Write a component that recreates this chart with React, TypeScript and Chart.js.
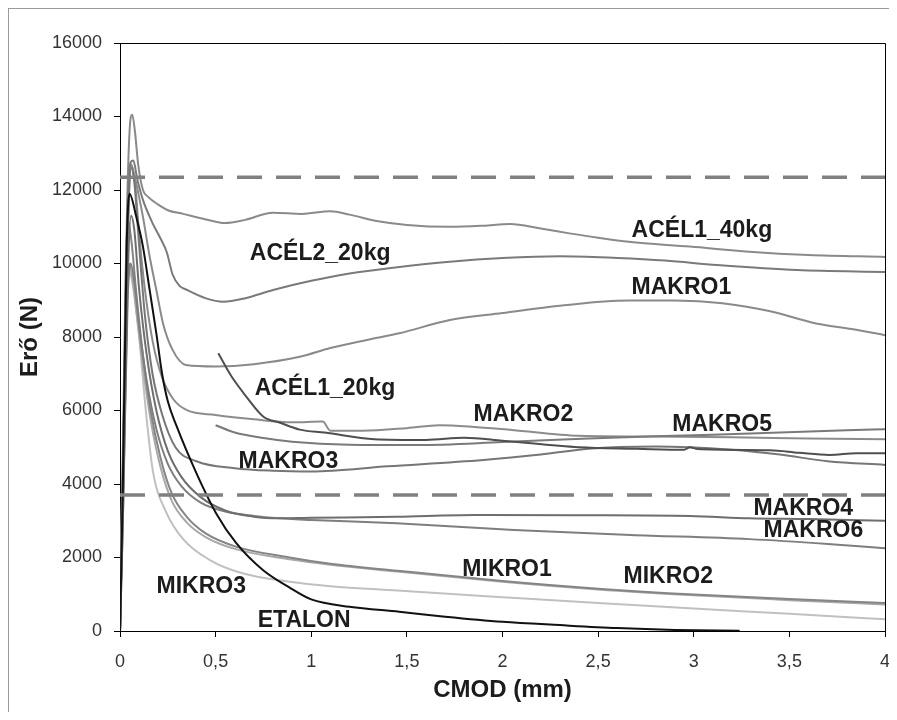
import React, { useEffect, useRef } from 'react';
import { Chart, registerables } from 'chart.js';
Chart.register(...registerables);

// ---- data (CMOD mm, force N) ----
const acel1_40kg: [number, number][] = [[0,0],[0.015,4000],[0.035,11000],[0.05,13600],[0.064,14050],[0.078,13600],[0.095,12700],[0.12,12000],[0.146,11820],[0.2,11600],[0.25,11450],[0.33,11350],[0.45,11200],[0.55,11100],[0.65,11180],[0.8,11380],[0.95,11350],[1.1,11420],[1.2,11330],[1.35,11150],[1.5,11050],[1.725,11000],[1.9,11030],[2.04,11075],[2.2,10950],[2.35,10820],[2.5,10700],[2.66,10590],[2.98,10460],[3.29,10320],[3.6,10230],[4.0,10180]];
const acel2_20kg: [number, number][] = [[0,0],[0.015,4000],[0.035,10500],[0.055,12750],[0.07,12800],[0.09,12300],[0.12,11730],[0.17,11100],[0.21,10700],[0.245,10300],[0.275,9700],[0.31,9400],[0.35,9280],[0.45,9050],[0.54,8960],[0.65,9050],[0.8,9280],[1.0,9530],[1.2,9730],[1.45,9900],[1.725,10050],[2.0,10150],[2.3,10200],[2.6,10150],[2.85,10080],[3.12,9960],[3.54,9820],[4.0,9770]];
const makro1: [number, number][] = [[0,0],[0.015,4000],[0.04,11500],[0.058,12700],[0.075,12400],[0.1,11800],[0.12,11270],[0.155,10190],[0.19,9280],[0.225,8370],[0.275,7650],[0.345,7240],[0.5,7200],[0.7,7260],[0.94,7460],[1.1,7700],[1.29,7920],[1.46,8100],[1.725,8460],[2.0,8650],[2.3,8850],[2.66,8990],[2.9,8990],[3.15,8920],[3.4,8700],[3.64,8370],[3.85,8200],[4.0,8050]];
const acel1_20kg: [number, number][] = [[0.514,7560],[0.58,6950],[0.66,6380],[0.75,5830],[0.83,5680],[0.94,5480],[1.07,5400],[1.33,5220],[1.6,5200],[1.8,5260],[2.0,5180],[2.4,5000],[2.7,4960],[2.95,4930],[2.98,5000],[3.02,4950],[3.4,4920],[3.55,4850],[3.71,4790],[3.85,4840],[4.0,4835]];
const makro2: [number, number][] = [[0,0],[0.015,4000],[0.04,10800],[0.06,12650],[0.08,12100],[0.1,10800],[0.13,9300],[0.17,7900],[0.22,6900],[0.28,6300],[0.35,6010],[0.5,5880],[0.7,5760],[0.9,5680],[1.06,5700],[1.1,5450],[1.27,5450],[1.5,5520],[1.67,5600],[1.84,5560],[2.05,5470],[2.4,5310],[2.8,5290],[3.2,5270],[3.6,5240],[4.0,5216]];
const makro5: [number, number][] = [[0.5,5600],[0.6,5400],[0.75,5250],[0.9,5150],[1.2,5070],[1.55,5060],[2.0,5140],[2.45,5240],[2.8,5300],[3.1,5340],[3.45,5400],[3.8,5460],[4.0,5490]];
const makro3: [number, number][] = [[0,0],[0.015,3500],[0.04,10500],[0.058,12600],[0.075,12200],[0.1,10500],[0.13,8600],[0.17,7000],[0.22,5900],[0.29,5000],[0.4,4620],[0.6,4430],[0.8,4360],[1.0,4340],[1.4,4480],[1.9,4650],[2.2,4800],[2.45,4960],[2.8,5020],[3.2,4930],[3.45,4800],[3.7,4620],[4.0,4520]];
const makro4: [number, number][] = [[0,0],[0.015,3000],[0.04,9500],[0.058,11300],[0.075,10900],[0.1,9300],[0.14,7500],[0.19,6000],[0.25,4900],[0.32,4200],[0.42,3650],[0.55,3280],[0.7,3110],[0.834,3067],[1.0,3080],[1.446,3110],[1.856,3156],[2.4,3150],[2.98,3129],[3.29,3067],[3.6,3045],[4.0,3000]];
const makro6: [number, number][] = [[0,0],[0.015,3000],[0.04,9000],[0.055,10000],[0.075,9500],[0.1,8300],[0.14,6800],[0.19,5500],[0.25,4550],[0.32,3950],[0.42,3500],[0.55,3250],[0.7,3130],[0.834,3067],[1.0,3020],[1.446,2930],[2.06,2748],[2.67,2612],[3.29,2500],[3.7,2370],[4.0,2250]];
const mikro1: [number, number][] = [[0,0],[0.012,4000],[0.04,11200],[0.06,10600],[0.085,9200],[0.12,7500],[0.16,6000],[0.21,4750],[0.27,3750],[0.35,3100],[0.45,2650],[0.61,2290],[0.887,2000],[1.1,1830],[1.45,1640],[2.0,1360],[2.5,1150],[3.0,990],[3.5,870],[4.0,760]];
const mikro2: [number, number][] = [[0,0],[0.012,3500],[0.045,10000],[0.065,9600],[0.09,8500],[0.125,7000],[0.165,5600],[0.21,4500],[0.27,3550],[0.35,2950],[0.45,2550],[0.61,2220],[0.887,1950],[1.1,1800],[1.45,1620],[2.0,1340],[2.5,1130],[3.0,970],[3.5,840],[4.0,720]];
const mikro3: [number, number][] = [[0,0],[0.01,3500],[0.035,9000],[0.05,9750],[0.07,9300],[0.1,8000],[0.135,6000],[0.172,4350],[0.24,3250],[0.33,2500],[0.47,1930],[0.64,1570],[0.887,1340],[1.1,1220],[1.45,1100],[2.0,920],[2.5,760],[3.0,610],[3.5,470],[4.0,320]];
const etalon: [number, number][] = [[0,0],[0.015,4000],[0.035,10500],[0.05,11900],[0.085,11270],[0.12,10460],[0.155,9280],[0.19,8100],[0.22,7000],[0.25,6250],[0.294,5600],[0.4,4290],[0.503,3200],[0.608,2390],[0.747,1660],[0.887,1180],[1.0,860],[1.2,660],[1.46,525],[1.7,390],[2.0,250],[2.3,160],[2.6,80],[2.9,30],[3.24,5]];

const upperLimit = 12350;
const lowerLimit = 3700;

const xMin = 0, xMax = 4, xStep = 0.5;
const yMin = 0, yMax = 16000, yStep = 2000;

const curveLabels = ['ACÉL1_40kg','ACÉL2_20kg','MAKRO1','ACÉL1_20kg','MAKRO2','MAKRO5','MAKRO3','MAKRO4','MAKRO6','MIKRO1','MIKRO2','MIKRO3','ETALON'];
const curveLabelX = [2.675,0.679,2.675,0.704,1.849,2.888,0.62,3.312,3.365,1.79,2.633,0.191,0.72];
const curveLabelY = [10900,10259,9340,6585,5900,5620,4599,3320,2721,1660,1469,1197,272];

const series = [
  { name: 'ETALON', data: etalon, color: '#111111' },
  { name: 'ACÉL1_20kg', data: acel1_20kg, color: '#4f4f4f' },
  { name: 'MAKRO4', data: makro4, color: '#6e6e6e' },
  { name: 'MAKRO3', data: makro3, color: '#767676' },
  { name: 'MAKRO5', data: makro5, color: '#7a7a7a' },
  { name: 'MAKRO6', data: makro6, color: '#7e7e7e' },
  { name: 'MIKRO1', data: mikro1, color: '#858585' },
  { name: 'ACÉL2_20kg', data: acel2_20kg, color: '#7a7a7a' },
  { name: 'ACÉL1_40kg', data: acel1_40kg, color: '#8a8a8a' },
  { name: 'MAKRO1', data: makro1, color: '#8a8a8a' },
  { name: 'MAKRO2', data: makro2, color: '#8c8c8c' },
  { name: 'MIKRO2', data: mikro2, color: '#a8a8a8' },
  { name: 'MIKRO3', data: mikro3, color: '#c0c0c0' },
];

const FONT = '"Liberation Sans", Arial, Helvetica, sans-serif';

const boxPlugin = {
  id: 'box',
  afterDraw(chart: any) {
    const { ctx, chartArea } = chart;
    ctx.save();
    ctx.strokeStyle = '#000';
    ctx.lineWidth = 1;
    const r = Math.round(chartArea.right) + 0.5;
    const t = Math.round(chartArea.top) + 0.5;
    ctx.beginPath();
    ctx.moveTo(Math.round(chartArea.left), t);
    ctx.lineTo(r, t);
    ctx.lineTo(r, Math.round(chartArea.bottom) + 1);
    ctx.stroke();
    ctx.restore();
  },
};

const labelPlugin = {
  id: 'curveLabels',
  afterDatasetsDraw(chart: any) {
    const { ctx, scales } = chart;
    ctx.save();
    ctx.font = 'bold 23px ' + FONT;
    ctx.fillStyle = '#1c1c1c';
    ctx.textAlign = 'left';
    ctx.textBaseline = 'middle';
    curveLabels.forEach((t, i) => {
      ctx.fillText(t, scales.x.getPixelForValue(curveLabelX[i]), scales.y.getPixelForValue(curveLabelY[i]));
    });
    ctx.restore();
  },
};

export default function App() {
  const ref = useRef<HTMLCanvasElement | null>(null);
  useEffect(() => {
    if (!ref.current) return;
    const datasets: any[] = [
      {
        data: [{ x: xMin, y: upperLimit }, { x: xMax, y: upperLimit }],
        borderColor: '#808080', borderWidth: 3.5, borderDash: [25, 14], showLine: true, pointRadius: 0,
      },
      {
        data: [{ x: xMin, y: lowerLimit }, { x: xMax, y: lowerLimit }],
        borderColor: '#808080', borderWidth: 3.5, borderDash: [25, 14], showLine: true, pointRadius: 0,
      },
      ...series.map((s) => ({
        label: s.name,
        data: s.data.map(([x, y]) => ({ x, y })),
        borderColor: s.color,
        borderWidth: 2,
        showLine: true,
        pointRadius: 0,
        cubicInterpolationMode: 'monotone',
      })),
    ];
    const chart = new Chart(ref.current, {
      type: 'scatter',
      data: { datasets },
      plugins: [boxPlugin, labelPlugin],
      options: {
        animation: false,
        responsive: false,
        maintainAspectRatio: false,
        layout: { padding: { left: 0, top: 34, right: 11, bottom: 0 } },
        plugins: { legend: { display: false }, tooltip: { enabled: false } },
        scales: {
          x: {
            type: 'linear', min: xMin, max: xMax,
            afterFit: (s: any) => { s.height = 81; s.paddingLeft = 0; s.paddingRight = 0; },
            ticks: {
              stepSize: xStep, color: '#333', padding: 14,
              font: { family: FONT, size: 18 },
              callback: (v: any) => String(v).replace('.', ','),
            },
            grid: { display: true, drawOnChartArea: false, drawTicks: true, tickLength: 6, color: '#000' },
            border: { display: true, color: '#000', width: 1 },
            title: { display: true, text: 'CMOD (mm)', color: '#1c1c1c', font: { family: FONT, size: 24, weight: 'bold' }, padding: { top: 0, bottom: 7 } },
          },
          y: {
            type: 'linear', min: yMin, max: yMax,
            afterFit: (s: any) => { s.width = 111; },
            ticks: {
              stepSize: yStep, color: '#333', padding: 12,
              font: { family: FONT, size: 18 },
              callback: (v: any) => String(v),
            },
            grid: { display: true, drawOnChartArea: false, drawTicks: true, tickLength: 6, color: '#000' },
            border: { display: true, color: '#000', width: 1 },
            title: { display: true, text: 'Erő (N)', color: '#1c1c1c', font: { family: FONT, size: 24, weight: 'bold' }, padding: { top: 7, bottom: 0 } },
          },
        },
      } as any,
    });
    return () => chart.destroy();
  }, []);
  return (
    <div style={{ borderTop: '1px solid #9a9a9a', borderLeft: '1px solid #9a9a9a', width: 887, height: 703 }}>
      <canvas ref={ref} width={887} height={703} style={{ display: 'block', width: 887, height: 703 }} />
    </div>
  );
}
